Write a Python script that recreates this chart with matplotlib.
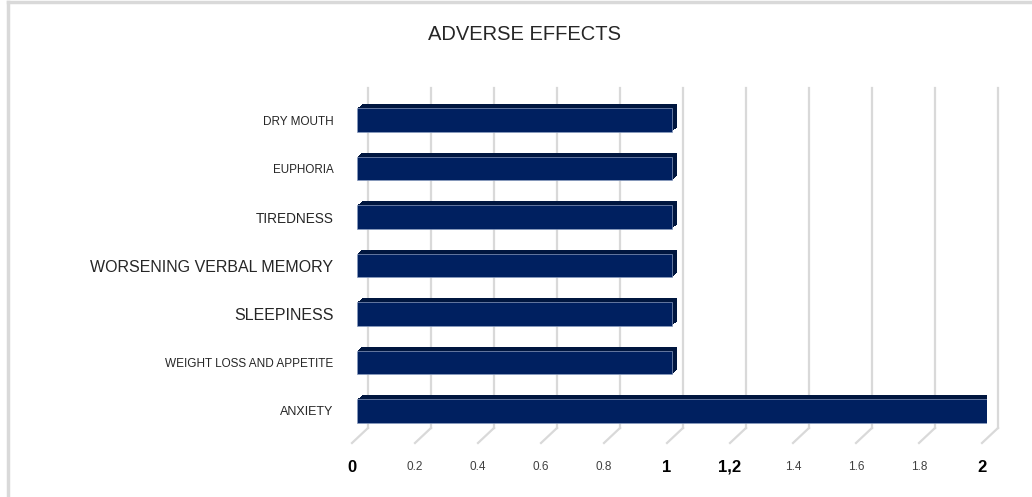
import matplotlib
matplotlib.use('Agg')
import matplotlib.pyplot as plt
from matplotlib.transforms import offset_copy
from matplotlib.lines import Line2D

# datos del grafico
effects = ['ANXIETY', 'WEIGHT LOSS AND APPETITE', 'SLEEPINESS',
           'WORSENING VERBAL MEMORY', 'TIREDNESS', 'EUPHORIA', 'DRY MOUTH']
counts = [2, 1, 1, 1, 1, 1, 1]
label_sizes = [9, 8.5, 11.5, 11.5, 9.8, 8.4, 8.5]

ticks = [0, 0.2, 0.4, 0.6, 0.8, 1, 1.2, 1.4, 1.6, 1.8, 2]
tick_labels = ['0', '0.2', '0.4', '0.6', '0.8', '1', '1,2', '1.4', '1.6', '1.8', '2']
big_ticks = ['0', '1', '1,2', '2']

W, H = 1032, 497
fig = plt.figure(figsize=(W / 100, H / 100), dpi=100)
plt.rcParams['font.family'] = ['Liberation Sans', 'DejaVu Sans']

# marco (solo arriba e izquierda)
fig.add_artist(Line2D([8 / W, 8 / W], [0, 1 - 2 / H], color='#d9d9d9', lw=2.5))
fig.add_artist(Line2D([8 / W, 1], [1 - 2 / H, 1 - 2 / H], color='#d9d9d9', lw=2.5))

# ejes: plano frontal
ax = fig.add_axes([357 / W, (H - 443) / H, 630 / W, (443 - 88) / H])
ax.set_xlim(0, 2)
ax.set_ylim(-0.66, 6.66)
for s in ax.spines.values():
    s.set_visible(False)
ax.set_xticks([])
ax.set_yticks(range(len(effects)))
ax.set_yticklabels(effects)
ax.tick_params(axis='y', length=0, pad=17)
for lab, fs in zip(ax.get_yticklabels(), label_sizes):
    lab.set_fontsize(fs)
    lab.set_color('#262626')

# rejilla en la pared del fondo
back = offset_copy(ax.transData, fig=fig, x=11, y=0, units='dots')
floor_y = -0.35
inv = ax.transData.inverted()
for t in ticks:
    ax.plot([t, t], [floor_y, 6.66], color='#d9d9d9', lw=1.6, transform=back,
            zorder=0, clip_on=False)
    a = inv.transform(back.transform((t, floor_y)))
    b = inv.transform(ax.transData.transform((t, -0.66)) + [-5, 0])
    ax.plot([a[0], b[0]], [a[1], b[1]], color='#d9d9d9', lw=1.6, zorder=0,
            clip_on=False)

# barras con profundidad
ypos = list(range(len(effects)))
h = 0.49
for k in range(1, 6):
    tr = offset_copy(ax.transData, fig=fig, x=k, y=k * 0.8, units='dots')
    ax.barh(ypos, counts, height=h, color='#00163f', transform=tr, zorder=2)
ax.barh(ypos, counts, height=h, color='#002060', edgecolor='#8a9cc0',
        lw=0.5, zorder=3)

# etiquetas del eje x
lab_tr = offset_copy(ax.get_xaxis_transform(), fig=fig, x=-5, y=-24, units='dots')
for t, lab in zip(ticks, tick_labels):
    if lab in big_ticks:
        ax.text(t, 0, lab, transform=lab_tr, ha='center', va='center',
                fontsize=12, fontweight='bold', color='black')
    else:
        ax.text(t, 0, lab, transform=lab_tr, ha='center', va='center',
                fontsize=8.5, color='#404040')

fig.text(525 / W, 1 - 35 / H, 'ADVERSE EFFECTS', ha='center', va='center',
         fontsize=14.5, color='#262626')

fig.savefig('out.png', dpi=100)
